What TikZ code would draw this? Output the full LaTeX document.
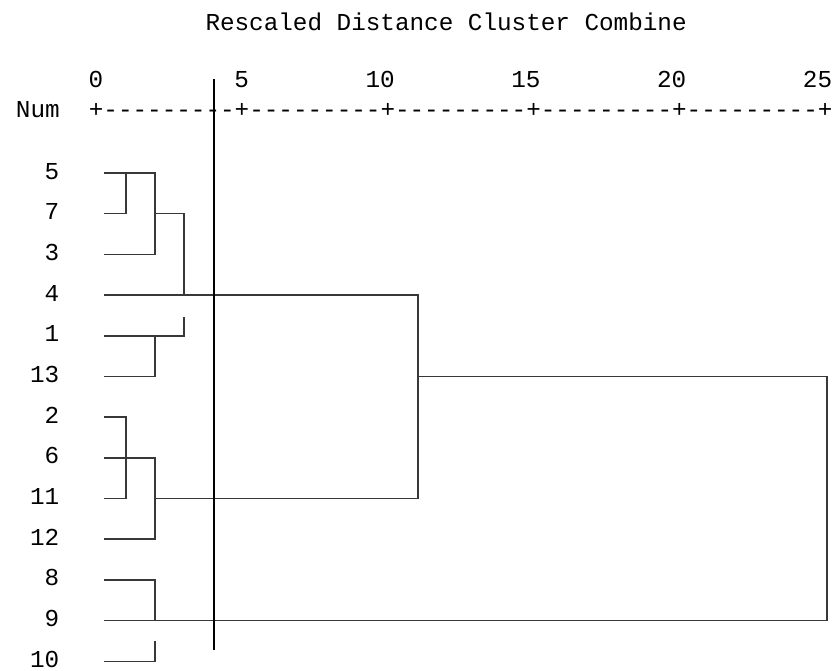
\documentclass[tikz,border=0pt]{standalone}
\usepackage{fontspec}
\newfontfamily\dendrofont{Liberation Mono}
\usetikzlibrary{positioning}
\definecolor{linkGray}{rgb}{0.22,0.22,0.22}

\begin{document}
\begin{tikzpicture}[x=1pt, y=-1pt,
    txt/.style={inner sep=0pt, font=\dendrofont\fontsize{24.3}{24.3}\selectfont},
    link/.style={linkGray, line width=1.5pt},
    cutline/.style={black, line width=2.1pt}]
	\useasboundingbox (0,0) rectangle (834,670);
	% header
	\node[txt, anchor=base west] (title) at (205.3,30) {Rescaled Distance Cluster Combine};
	\node[txt, anchor=base west] (num) at (15.8,117) {Num};
	\node[txt, anchor=base west] (axis) at (88.7,117) {+---------+---------+---------+---------+---------+};
	\foreach \v in {0,5,...,25}
		\node[txt, anchor=base east] (t\v) at ({103.3+\v*29.16},87) {\v};
	% leaves
	\foreach \lbl [count=\i] in {5,7,3,4,1,13,2,6,11,12,8,9,10} {
		\coordinate (r\lbl) at (0,{173+(\i-1)*40.69});
		\node[txt, anchor=base east] (n\lbl) at (59.5,{179+(\i-1)*40.69}) {\lbl};
	}
	% merge columns
	\coordinate (c0) at (104,0);
	\coordinate (c1) at (126,0);
	\coordinate (c2) at (155,0);
	\coordinate (c3) at (184,0);
	\coordinate (c4) at (418,0);
	\coordinate (c5) at (827,0);
	\draw[link] (c0 |- r5) -- (c2 |- r5) -- (c2 |- r3) -- (c0 |- r3);
	\draw[link] (c0 |- r7) -- (c1 |- r7) -- (c1 |- r5);
	\draw[link] (c2 |- r7) -- (c3 |- r7) -- (c3 |- r4);
	\draw[link] (c0 |- r4) -- (c4 |- r4) -- (c4 |- r11) -- (c2 |- r11);
	\draw[link] (c0 |- r1) -- (c3 |- r1) -- ++(0,-19);
	\draw[link] (c2 |- r1) -- (c2 |- r13) -- (c0 |- r13);
	\draw[link] (c0 |- r2) -- (c1 |- r2) -- (c1 |- r11) -- (c0 |- r11);
	\draw[link] (c0 |- r6) -- (c2 |- r6) -- (c2 |- r12) -- (c0 |- r12);
	\draw[link] (c4 |- r13) -- (c5 |- r13) -- (c5 |- r9) -- (c0 |- r9);
	\draw[link] (c0 |- r8) -- (c2 |- r8) -- (c2 |- r9);
	\draw[link] (c0 |- r10) -- (c2 |- r10) -- ++(0,-20);
	% cut
	\coordinate (cuttop) at (214,79);
	\coordinate (cutbot) at (214,650);
	\draw[cutline] (cuttop) -- (cutbot);
\end{tikzpicture}
\end{document}
